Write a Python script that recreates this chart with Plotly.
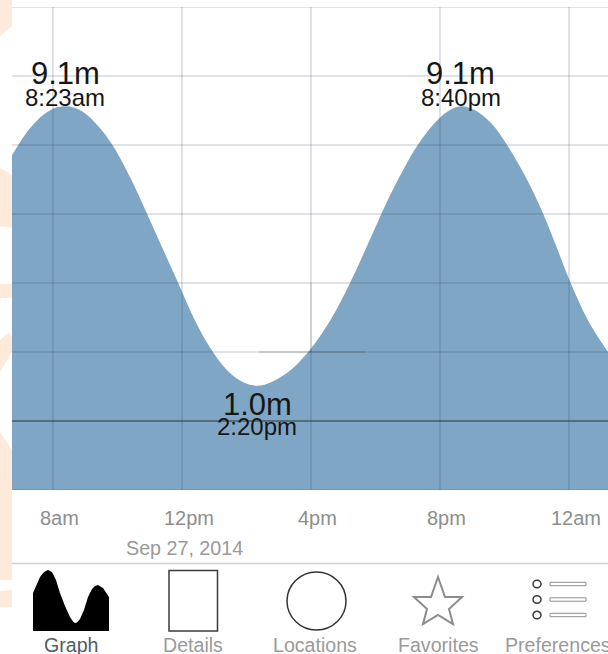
import plotly.graph_objects as go

W, H = 608, 654

# Tide curve: hours since midnight Sep 27, metres
hours = [6.73, 7.3, 7.9, 8.38, 8.9, 9.4, 9.83, 10.4, 10.91, 11.4, 11.86, 12.4, 12.87, 13.4, 13.9, 14.33,
         14.8, 15.4, 16.0, 16.6, 17.21, 17.8, 18.39, 18.9, 19.29, 19.8, 20.25, 20.65, 21.1, 21.6, 22.08,
         22.67, 23.19, 23.6, 24.03, 24.6, 25.21]
levels = [7.70, 8.5, 9.0, 9.12, 8.98, 8.55, 8.02, 7.05, 6.02, 5.0, 4.05, 2.92, 2.13, 1.47, 1.12, 1.02,
          1.14, 1.5, 2.1, 2.92, 4.0, 5.2, 6.42, 7.35, 7.97, 8.6, 8.98, 9.12, 9.0, 8.62, 8.0,
          7.05, 6.03, 5.08, 4.05, 2.9, 2.0]
AXIS_BOTTOM = -2
AXIS_TOP = 12
level_ticks = [-2, 0, 2, 4, 6, 8, 10, 12]
hour_ticks = [8, 12, 16, 20, 24]
hour_labels = ["8am", "12pm", "4pm", "8pm", "12am"]

# Tide extremes: time (h), height (m), height text, time text
ext_hours = [8.38, 14.33, 20.65]
ext_levels = [9.1, 1.0, 9.1]
ext_height_text = ["9.1m", "1.0m", "9.1m"]
ext_time_text = ["8:23am", "2:20pm", "8:40pm"]

date_text = "Sep 27, 2014"
tab_names = ["Graph", "Details", "Locations", "Favorites", "Preferences"]
tab_centers = [71, 193, 315, 438, 558]
tab_colors = ["#4f5d63", "#9a9a9a", "#9a9a9a", "#9a9a9a", "#9a9a9a"]

FONT = "Liberation Sans"
ORANGE = "#FDEADA"
BLUE = "#7FA6C4"
GRID = "rgba(50,60,80,0.30)"


def px(x):
    return x / W


def py(y):
    return 1 - y / H


def poly(points, close=True):
    d = "M" + " L".join(f"{px(x):.5f},{py(y):.5f}" for x, y in points)
    return d + (" Z" if close else "")


def shape_poly(points, fill=None, line=None, width=0, layer="above"):
    return dict(type="path", xref="paper", yref="paper", path=poly(points), fillcolor=fill or "rgba(0,0,0,0)",
                line=dict(color=line or "rgba(0,0,0,0)", width=width), layer=layer)


def shape_box(kind, x0, y0, x1, y1, fill=None, line=None, width=1, layer="above"):
    return dict(type=kind, xref="paper", yref="paper", x0=px(x0), x1=px(x1), y0=py(y0), y1=py(y1),
                fillcolor=fill or "rgba(0,0,0,0)", line=dict(color=line or "rgba(0,0,0,0)", width=width), layer=layer)


fig = go.Figure()
fig.add_trace(go.Scatter(x=hours, y=[AXIS_BOTTOM] * len(hours), mode="lines", line=dict(width=0), hoverinfo="skip",
                         showlegend=False))
fig.add_trace(go.Scatter(x=hours, y=levels, mode="lines", line=dict(width=0, shape="spline", smoothing=1.0),
                         fill="tonexty", fillcolor=BLUE, hoverinfo="skip", showlegend=False))

shapes = []
# grid drawn over the filled area
for lv in level_ticks:
    col = "#26323d" if lv == 0 else GRID
    shapes.append(dict(type="line", xref="paper", yref="y", x0=px(12), x1=1, y0=lv, y1=lv,
                       line=dict(color=col, width=1), layer="above"))
for hr in hour_ticks:
    shapes.append(dict(type="line", xref="x", yref="y", x0=hr, x1=hr, y0=AXIS_BOTTOM, y1=AXIS_TOP,
                       line=dict(color=GRID, width=1), layer="above"))

# pale decorative wallpaper showing in the left strip
for pts in [
    [(0, 0), (12, 0), (12, 26), (0, 36)],
    [(0, 168), (12, 175), (12, 228), (0, 226)],
    [(0, 284), (12, 284), (12, 298), (0, 298)],
    [(0, 340), (9, 332), (12, 337), (12, 352), (0, 372)],
    [(0, 432), (12, 450), (12, 580), (0, 580)],
    [(0, 591), (12, 590), (12, 607), (0, 607)],
]:
    shapes.append(shape_poly(pts, fill=ORANGE, layer="below"))

# darker stubs on the grid near the cursor
shapes.append(dict(type="line", xref="x", yref="y", x0=14.4, x1=17.7, y0=2, y1=2,
                   line=dict(color="rgba(40,40,40,0.3)", width=1), layer="above"))
shapes.append(dict(type="line", xref="x", yref="y", x0=16, x1=16, y0=2, y1=4,
                   line=dict(color="rgba(60,60,60,0.2)", width=1), layer="above"))

# tab bar separator
shapes.append(shape_box("line", 12, 563.5, W, 563.5, line="#cfcfcf", width=1.5))

# Graph icon
graph_icon = [(33, 593), (37, 584), (40, 577), (44, 572), (48, 570), (52, 572), (56, 580), (60, 593), (65, 606),
              (70, 617), (73, 621.5), (75, 623), (77, 622.5), (80, 619), (84, 610), (88, 597), (92, 589), (95, 586),
              (98, 585), (103, 588), (109, 597), (109, 631), (33, 631)]
shapes.append(shape_poly(graph_icon, fill="#000000"))
# Details icon
shapes.append(shape_box("rect", 169, 570.5, 217.5, 631, line="#3a3a3a", width=1.5))
# Locations icon
shapes.append(shape_box("circle", 287, 572, 346, 630, line="#333333", width=1.5))
# Favorites icon
star = [(438, 577), (445, 597), (462, 597), (449, 609), (453, 624), (438, 615), (423, 624), (427, 609), (414, 597),
        (431, 597)]
shapes.append(shape_poly(star, line="#8c8c8c", width=2))
# Preferences icon
for cy in [584, 599.5, 615]:
    shapes.append(shape_box("circle", 533, cy - 3.7, 541, cy + 3.7, line="#3c3c3c", width=1.5))
    shapes.append(shape_box("rect", 550, cy - 1.7, 586, cy + 1.7, line="#8e8e8e", width=1))

annotations = []
for xh, yl, ht, tt in zip(ext_hours, ext_levels, ext_height_text, ext_time_text):
    high = yl > 5
    annotations.append(dict(x=xh, y=yl, xref="x", yref="y", text=ht, showarrow=False, xanchor="center", yanchor="middle",
                            yshift=(34 if high else -18), font=dict(family=FONT, size=31, color="#161616")))
    annotations.append(dict(x=xh, y=yl, xref="x", yref="y", text=tt, showarrow=False, xanchor="center", yanchor="middle",
                            yshift=(10 if high else -40), font=dict(family=FONT, size=24, color="#161616")))

for xh, lab in zip(hour_ticks, hour_labels):
    annotations.append(dict(x=xh, y=py(518), xref="x", yref="paper", text=lab, showarrow=False, xanchor="center",
                            yanchor="middle", xshift=7, font=dict(family=FONT, size=20, color="#8e8e8e")))
annotations.append(dict(x=px(184.5), y=py(548), xref="paper", yref="paper", text=date_text, showarrow=False,
                        xanchor="center", yanchor="middle", font=dict(family=FONT, size=19.7, color="#999999")))
for cx, name, col in zip(tab_centers, tab_names, tab_colors):
    annotations.append(dict(x=px(cx), y=py(645), xref="paper", yref="paper", text=name, showarrow=False,
                            xanchor="center", yanchor="middle", font=dict(family=FONT, size=19.6, color=col)))

fig.update_layout(
    width=W, height=H, margin=dict(l=0, r=0, t=0, b=0), paper_bgcolor="white", plot_bgcolor="white",
    showlegend=False, hovermode=False, shapes=shapes, annotations=annotations,
    xaxis=dict(domain=[px(12), 1], range=[hours[0], hours[-1]], tickvals=hour_ticks, showticklabels=False, ticks="",
               showgrid=False, zeroline=False, showline=False),
    yaxis=dict(domain=[py(490), py(7)], range=[AXIS_BOTTOM, AXIS_TOP], tickvals=level_ticks, showticklabels=False,
               ticks="", showgrid=False, zeroline=False, showline=False),
)

fig.write_html("out.html", config=dict(displayModeBar=False),
               post_script="document.body.style.margin='0';document.body.style.overflow='hidden';")
